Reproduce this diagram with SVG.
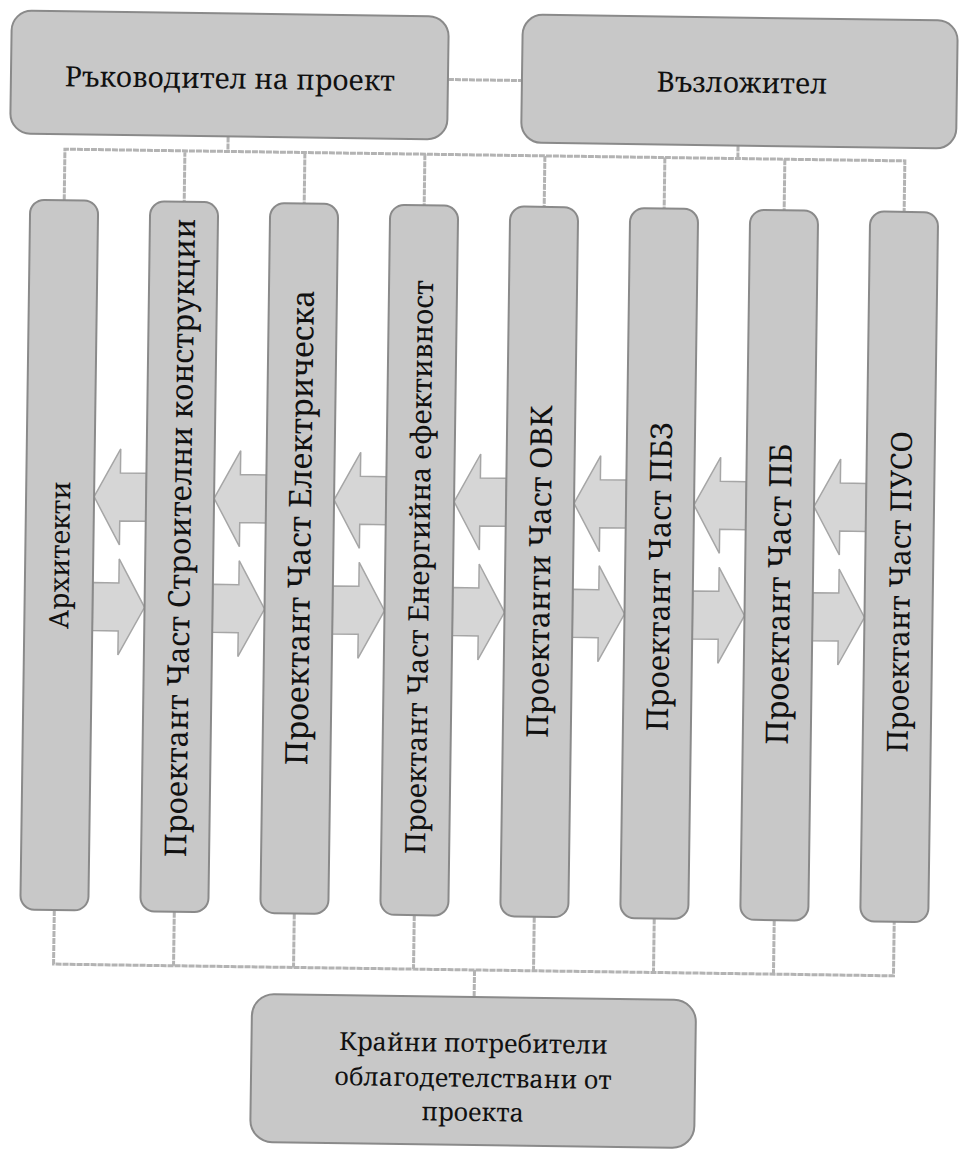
<svg xmlns="http://www.w3.org/2000/svg" width="960" height="1154" viewBox="0 0 960 1154">
<style>
.box{fill:#c8c8c8;stroke:#8a8a8a;stroke-width:2}
.arrow{fill:#d6d6d6;stroke:#a6a6a6;stroke-width:1.5}
.conn{fill:none;stroke:#b3b3b3;stroke-width:3;stroke-dasharray:6 1}
.t{font-family:'Noto Serif','DejaVu Serif',serif;font-size:28px;fill:#111}
</style>
<defs>
<polygon id="arrL" class="arrow" points="0,502 26,454 26,478 52,478 52,526 26,526 26,550"/>
<polygon id="arrR" class="arrow" points="0,588 26,588 26,564 52,612 26,660 26,636 0,636"/>
</defs>
<rect width="960" height="1154" fill="#ffffff"/>
<g transform="rotate(0.8 480 577)">
<g id="connectors">
<path class="conn" d="M441 80 H515"/>
<path class="conn" d="M222 140 V155 M732 142 V155 M59 206 V155 H899 V206 M179 155 V206 M299 155 V206 M419 155 V206 M539 155 V206 M659 155 V206 M779 155 V206"/>
<path class="conn" d="M59 916 V970 H899 V916 M179 916 V970 M299 916 V970 M419 916 V970 M539 916 V970 M659 916 V970 M779 916 V970 M480 970 V997"/>
</g>
<g id="arrows">
<use href="#arrL" x="93"/><use href="#arrR" x="93"/>
<use href="#arrL" x="213"/><use href="#arrR" x="213"/>
<use href="#arrL" x="333"/><use href="#arrR" x="333"/>
<use href="#arrL" x="453"/><use href="#arrR" x="453"/>
<use href="#arrL" x="573"/><use href="#arrR" x="573"/>
<use href="#arrL" x="693"/><use href="#arrR" x="693"/>
<use href="#arrL" x="813"/><use href="#arrR" x="813"/>
</g>
<g id="manager">
<rect class="box" x="4" y="17" width="437" height="123" rx="20"/>
<text class="t" x="223" y="92" text-anchor="middle">Ръководител на проект</text>
</g>
<g id="client">
<rect class="box" x="515" y="14" width="435" height="128" rx="20"/>
<text class="t" x="735" y="89" text-anchor="middle">Възложител</text>
</g>
<g id="col1">
<rect class="box" x="25" y="206" width="68" height="710" rx="14"/>
<text class="t" style="font-size:27px" transform="translate(69 561) rotate(-90)" text-anchor="middle">Архитекти</text>
</g>
<g id="col2">
<rect class="box" x="145" y="206" width="68" height="710" rx="14"/>
<text class="t" style="font-size:30px" transform="translate(190 542) rotate(-90)" text-anchor="middle">Проектант Част Строителни конструкции</text>
</g>
<g id="col3">
<rect class="box" x="265" y="206" width="68" height="710" rx="14"/>
<text class="t" style="font-size:31px" transform="translate(310 530) rotate(-90)" text-anchor="middle">Проектант Част Електрическа</text>
</g>
<g id="col4">
<rect class="box" x="385" y="206" width="68" height="710" rx="14"/>
<text class="t" transform="translate(429 568) rotate(-90)" text-anchor="middle">Проектант Част Енергийна ефективност</text>
</g>
<g id="col5">
<rect class="box" x="505" y="206" width="68" height="710" rx="14"/>
<text class="t" style="font-size:30px" transform="translate(550 571) rotate(-90)" text-anchor="middle">Проектанти Част ОВК</text>
</g>
<g id="col6">
<rect class="box" x="625" y="206" width="68" height="710" rx="14"/>
<text class="t" style="font-size:30px" transform="translate(670 574) rotate(-90)" text-anchor="middle">Проектант Част ПБЗ</text>
</g>
<g id="col7">
<rect class="box" x="745" y="206" width="68" height="710" rx="14"/>
<text class="t" style="font-size:31px" transform="translate(790 590) rotate(-90)" text-anchor="middle">Проектант Част ПБ</text>
</g>
<g id="col8">
<rect class="box" x="865" y="206" width="68" height="710" rx="14"/>
<text class="t" style="font-size:29px" transform="translate(910 586) rotate(-90)" text-anchor="middle">Проектант Част ПУСО</text>
</g>
<g id="endusers">
<rect class="box" x="258" y="997" width="444" height="148" rx="22"/>
<text class="t" style="font-size:25px" text-anchor="middle"><tspan x="480" y="1052">Крайни потребители</tspan><tspan x="480" y="1087">облагодетелствани от</tspan><tspan x="480" y="1121">проекта</tspan></text>
</g>
</g>
</svg>
